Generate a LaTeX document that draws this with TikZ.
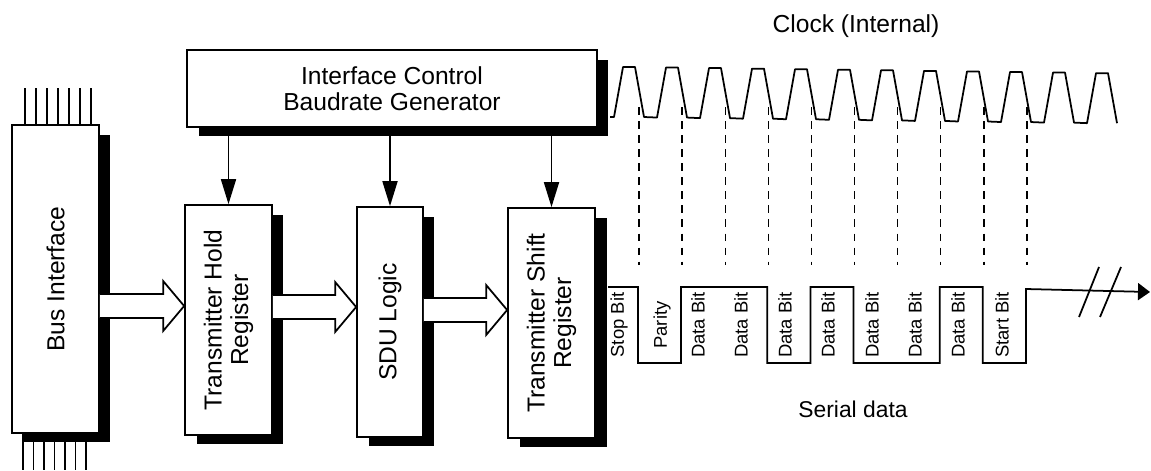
\documentclass[tikz,border=0pt]{standalone}
\usepackage{fontspec}
\setmainfont{Liberation Sans}
\usetikzlibrary{arrows.meta, shadows, calc}

% wide open arrow between two blocks at a given row
\newcommand{\fatarrow}[3]{%
  \coordinate (row) at (0,#3);
  \filldraw[fat] ($(#1.east |- row)+(0,-12)$) -- ($(#2.west |- row)+(-21,-12)$) -- ($(#2.west |- row)+(-21,-25)$) -- (#2.west |- row)
    -- ($(#2.west |- row)+(-21,25)$) -- ($(#2.west |- row)+(-21,12)$) -- ($(#1.east |- row)+(0,12)$);}

\begin{document}
\begin{tikzpicture}[x=0.02cm, y=-0.02cm, line width=1pt,
  box/.style={draw, fill=white, inner sep=0pt, drop shadow={shadow xshift=0.23cm, shadow yshift=-0.19cm, fill=black, opacity=1}},
  txt/.style={font=\fontsize{14}{15}\selectfont, align=center},
  bit/.style={rotate=90, font=\fontsize{10.5}{12}\selectfont},
  sig/.style={-{Triangle[length=0.5cm, width=0.3cm]}},
  fat/.style={fill=white},
  tick/.style={dash pattern=on 4.5pt off 3.5pt, line width=0.8pt}]

\fill[white] (0,0) rectangle (1151,470);
\useasboundingbox (0,0) rectangle (1151,470);

% bus pins
\foreach \i in {0,...,6} {\draw (25+11*\i,88) -- (25+11*\i,125); \draw (23+10.5*\i,433) -- (23+10.5*\i,470);}

% blocks
\node[box, minimum width=1.74cm, minimum height=6.16cm] (bus) at (55.5,279) {};
\node[box, minimum width=8.2cm, minimum height=1.54cm] (ctrl) at (392,88.5) {};
\node[box, minimum width=1.74cm, minimum height=4.6cm] (thr) at (228.5,320) {};
\node[box, minimum width=1.32cm, minimum height=4.6cm] (sdu) at (390,322) {};
\node[box, minimum width=1.74cm, minimum height=4.6cm] (tsr) at (551.5,323) {};

\node[txt, rotate=90] (bustxt) at (bus) {Bus Interface};
\node[txt] (ctrltxt) at (ctrl) {Interface Control\\Baudrate Generator};
\node[txt, rotate=90] (thrtxt) at (thr) {Transmitter Hold\\Register};
\node[txt, rotate=90] (sdutxt) at (sdu) {SDU Logic};
\node[txt, rotate=90] (tsrtxt) at (tsr) {Transmitter Shift\\Register};

\foreach \b in {thr,sdu,tsr} \draw[sig] (\b.north |- ctrl.south) -- (\b.north);

\fatarrow{bus}{thr}{306}
\fatarrow{thr}{sdu}{307}
\fatarrow{sdu}{tsr}{310}

% clock
\node[txt] (clktxt) at (856,26) {Clock (Internal)};
\draw[line join=round] (610,117) \foreach \k in {0,...,11} { -- ({614+43*\k},{117+0.56*\k}) -- ({623+43*\k},{67+0.56*\k}) -- ({635+43*\k},{67+0.56*\k}) -- ({644+43*\k},{117+0.56*\k}) };
\foreach \k in {0,...,9} \draw[tick] ({639+43.1*\k},107) -- ({639+43.1*\k},265);

% serial data
\coordinate (out) at (1150,292);
\draw[-{Triangle[length=0.24cm, width=0.34cm]}] (608,287) -- (638,287) -- (638,363) -- (681.1,363) -- (681.1,287) -- (767.3,287) -- (767.3,363) -- (810.4,363) -- (810.4,287)
  -- (853.5,287) -- (853.5,363) -- (939.7,363) -- (939.7,287) -- (982.8,287) -- (982.8,363) -- (1025.9,363) -- (1025.9,289) -- (out);
\draw (1079,317) -- (1099,267); \draw (1100,317) -- (1121,267);
\foreach \x/\t in {619/Stop Bit, 662/Parity, 698/Data Bit, 741/Data Bit, 785/Data Bit, 828/Data Bit, 872/Data Bit, 915/Data Bit, 958/Data Bit, 1002/Start Bit}
  \node[bit] (b\x) at (\x,325) {\t};
\node[font=\fontsize{13}{15}\selectfont] (sertxt) at (853,409) {Serial data};
\end{tikzpicture}
\end{document}
